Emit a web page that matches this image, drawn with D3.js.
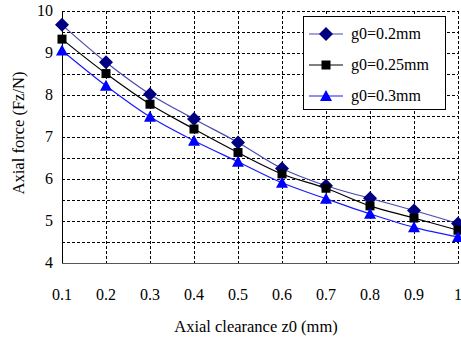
<!DOCTYPE html>
<html>
<head>
<meta charset="utf-8">
<script src="https://cdn.jsdelivr.net/npm/d3@7"></script>
<style>
  body { margin: 0; background: #fff; }
</style>
</head>
<body>
<svg width="461" height="341" font-family="'Liberation Serif', 'Times New Roman', serif"></svg>
<script>
const clearance = [0.1, 0.2, 0.3, 0.4, 0.5, 0.6, 0.7, 0.8, 0.9, 1.0];
const force02 = [9.67, 8.78, 8.02, 7.43, 6.87, 6.25, 5.84, 5.54, 5.25, 4.94];
const force025 = [9.33, 8.51, 7.78, 7.19, 6.63, 6.12, 5.78, 5.36, 5.07, 4.78];
const force03 = [9.06, 8.22, 7.48, 6.91, 6.41, 5.91, 5.53, 5.17, 4.85, 4.62];
const xTicks = [0.1, 0.2, 0.3, 0.4, 0.5, 0.6, 0.7, 0.8, 0.9, 1];
const yTicks = [4, 5, 6, 7, 8, 9, 10];
const yGrid = [4.5, 5, 5.5, 6, 6.5, 7, 7.5, 8, 8.5, 9, 9.5, 10];

const series = [
    {name: 'g0=0.2mm', values: force02, line: '#4a4ab0', fill: '#000080', shape: 'diamond'},
    {name: 'g0=0.25mm', values: force025, line: '#000000', fill: '#000000', shape: 'square'},
    {name: 'g0=0.3mm', values: force03, line: '#1a1aff', fill: '#0000ff', shape: 'triangle'}
];

const svg = d3.select('svg');
const plotLeft = 62, plotRight = 458, plotTop = 11, plotBottom = 263;

const x = d3.scaleLinear().domain([0.1, 1]).range([plotLeft, plotRight]);
const y = d3.scaleLinear().domain([4, 10]).range([plotBottom, plotTop]);

// grid
svg.append('g').selectAll('line').data(yGrid).join('line')
    .attr('x1', plotLeft).attr('x2', plotRight)
    .attr('y1', d => y(d) + 0.5).attr('y2', d => y(d) + 0.5)
    .attr('stroke', '#000').attr('stroke-dasharray', '3,2');
svg.append('g').selectAll('line').data(xTicks.slice(1)).join('line')
    .attr('x1', d => Math.round(x(d)) + 0.5).attr('x2', d => Math.round(x(d)) + 0.5)
    .attr('y1', plotTop).attr('y2', plotBottom)
    .attr('stroke', '#000').attr('stroke-dasharray', '3,2');

// axes frame
svg.append('line').attr('x1', plotLeft + 0.5).attr('x2', plotLeft + 0.5)
    .attr('y1', plotTop).attr('y2', plotBottom).attr('stroke', '#000');
svg.append('line').attr('x1', plotLeft).attr('x2', plotRight + 1)
    .attr('y1', plotBottom + 0.5).attr('y2', plotBottom + 0.5).attr('stroke', '#555');

// tick labels
svg.append('g').selectAll('text').data(yTicks).join('text')
    .attr('x', 53).attr('y', d => y(d) + 5)
    .attr('text-anchor', 'end').attr('font-size', 16)
    .text(d => d);
svg.append('g').selectAll('text').data(xTicks).join('text')
    .attr('x', d => x(d)).attr('y', 300)
    .attr('text-anchor', 'middle').attr('font-size', 16)
    .text(d => d);

// titles
svg.append('text').attr('x', 256).attr('y', 332)
    .attr('text-anchor', 'middle').attr('font-size', 16.5)
    .text('Axial clearance z0 (mm)');
svg.append('text')
    .attr('transform', 'translate(24,' + 133 + ') rotate(-90)')
    .attr('text-anchor', 'middle').attr('font-size', 16.5)
    .text('Axial force (Fz/N)');

const line = d3.line()
    .x((d, i) => x(clearance[i]))
    .y(d => y(d))
    .curve(d3.curveCatmullRom);

function marker(g, shape, fill, cx, cy) {
    if (shape === 'diamond') {
        g.append('path').attr('d', `M${cx},${cy - 7}L${cx + 7},${cy}L${cx},${cy + 7}L${cx - 7},${cy}Z`)
            .attr('fill', fill);
    } else if (shape === 'square') {
        g.append('rect').attr('x', cx - 4.5).attr('y', cy - 4.5)
            .attr('width', 9).attr('height', 9).attr('fill', fill);
    } else {
        g.append('path').attr('d', `M${cx},${cy - 6}L${cx + 6},${cy + 5}L${cx - 6},${cy + 5}Z`)
            .attr('fill', fill);
    }
}

series.forEach(s => {
    svg.append('path').attr('d', line(s.values))
        .attr('fill', 'none').attr('stroke', s.line).attr('stroke-width', 1.2);
});
series.forEach(s => {
    const g = svg.append('g');
    s.values.forEach((v, i) => marker(g, s.shape, s.fill, x(clearance[i]), y(v)));
});

// legend
const lg = svg.append('g');
lg.append('rect').attr('x', 303.5).attr('y', 16.5).attr('width', 142).attr('height', 93)
    .attr('fill', '#fff').attr('stroke', '#000');
series.forEach((s, i) => {
    const ly = 34 + i * 31;
    lg.append('line').attr('x1', 309).attr('x2', 343).attr('y1', ly).attr('y2', ly)
        .attr('stroke', s.line).attr('stroke-width', 1.2);
    marker(lg, s.shape, s.fill, 326, ly);
    lg.append('text').attr('x', 351).attr('y', ly + 5).attr('font-size', 16).text(s.name);
});
</script>
</body>
</html>
